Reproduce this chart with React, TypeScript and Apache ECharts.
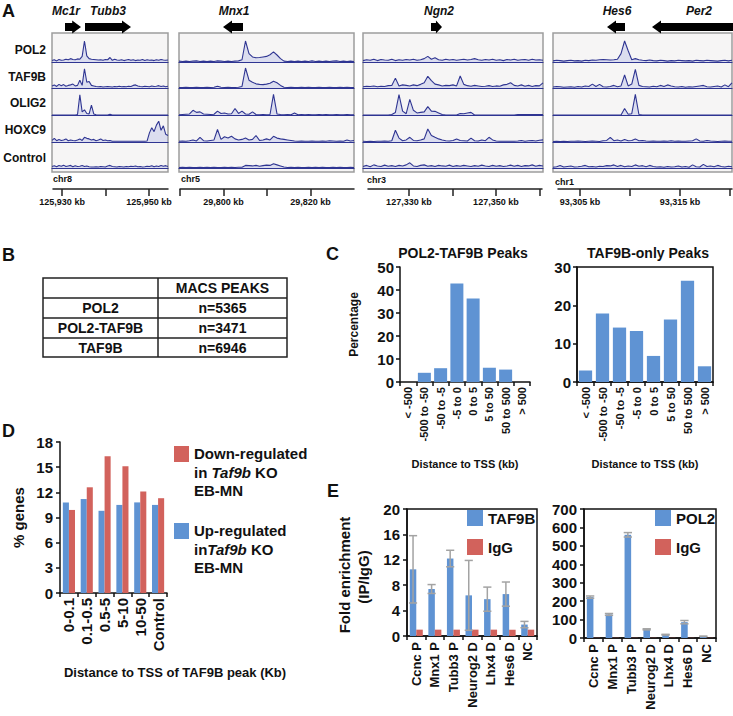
import React, { useEffect, useRef } from "react";
import * as echarts from "echarts";

const FONT = "'Liberation Sans', Arial, Helvetica, sans-serif";
const INK = "#111111";
const BLUE = "#5f93d3";
const RED = "#d2625c";
const NAVY = "#2f3592";
const TRACK_FILL = "rgba(120,130,215,0.3)";
const ERR_GREY = "#a3a3a3";

// ---------------- Panel A data ----------------
const TRACK_NAMES = ["POL2", "TAF9B", "OLIG2", "HOXC9", "Control"];
const GENE_NAMES = ["Mc1r", "Tubb3", "Mnx1", "Ngn2", "Hes6", "Per2"];
const GENE_STRAND = [1, 1, -1, 1, -1, -1];
const CHROMOSOMES = ["chr8", "chr5", "chr3", "chr1"];
const VIEW_START_KB = [125927.9, 29790, 127320.6, 93302.8];
const VIEW_END_KB = [125954.4, 29830, 127360.6, 93320.2];
const SCALE_TICKS_KB = [
  [125930, 125940, 125950],
  [29790, 29800, 29810, 29820],
  [127330, 127340, 127350, 127360],
  [93305, 93310, 93315, 93320],
];
const SCALE_LABELS_KB = [
  [125930, 125950],
  [29800, 29820],
  [127330, 127350],
  [93305, 93315],
];

// signal (% of track height) in 51 bins across each locus window
const TUBB3_POL2 = [5,8,4,9,6,7,10,8,12,9, 8,11,10,20,75,22,12,10,9,8, 7,8,6,9,8,16,6,10,7,6, 8,5,7,9,6,8,5,7,6,9, 5,8,6,7,5,8,6,9,7,6, 7];
const TUBB3_TAF9B = [8,12,6,14,9,13,7,10,12,15, 8,10,30,10,74,22,25,10,8,6, 5,6,4,5,6,5,4,6,5,7, 5,6,5,7,6,10,12,8,6,5, 7,6,5,8,6,7,9,6,8,5, 7];
const TUBB3_OLIG2 = [0,0,0,0,0,0,0,0,0,0, 0,2,78,12,20,6,4,38,4,1, 0,0,0,0,0,3,0,0,0,0, 0,0,0,0,0,0,0,0,0,0, 0,0,0,0,0,0,0,0,0,0, 0];
const TUBB3_HOXC9 = [6,14,5,10,6,8,12,5,8,6, 5,8,12,6,18,14,12,8,10,5, 8,12,6,8,5,6,3,3,3,3, 3,3,3,3,3,3,3,3,3,3, 3,4,35,55,40,65,80,45,62,30, 25];
const TUBB3_CONTROL = [6,9,5,10,7,11,6,8,10,5, 9,6,7,10,6,8,5,4,4,5, 4,6,5,4,8,10,6,5,4,6, 5,4,6,5,7,6,8,5,6,4, 5,7,6,9,5,8,6,10,7,9, 6];

const MNX1_POL2 = [3,2,3,2,3,4,2,3,2,3, 2,4,3,2,3,2,3,4,8,75, 30,18,15,16,18,20,26,36,25,12, 3,2,3,2,3,2,3,2,4,2, 3,2,3,2,3,4,2,3,2,3, 2];
const MNX1_TAF9B = [2,2,3,2,2,3,2,2,3,2, 3,7,3,2,3,2,2,3,6,77, 30,22,16,14,13,15,18,26,20,10, 3,2,3,2,2,3,2,3,2,2, 3,2,2,3,2,2,3,2,3,2, 2];
const MNX1_OLIG2 = [1,2,3,4,18,10,12,4,3,2, 3,15,6,8,4,5,25,6,15,4, 3,12,2,1,2,1,2,79,4,2, 1,2,1,8,1,2,1,2,1,1, 2,1,2,1,1,2,1,1,2,1, 1];
const MNX1_HOXC9 = [3,4,3,5,8,4,18,5,4,6, 8,48,10,20,15,22,12,8,10,15, 8,10,25,6,8,12,8,22,15,12, 10,8,6,4,3,4,3,3,4,3, 3,4,3,5,4,3,4,3,8,4, 6];
const MNX1_CONTROL = [2,3,2,3,2,2,3,2,3,2, 3,2,2,3,2,3,2,3,3,10, 9,8,10,7,9,11,10,16,12,8, 4,2,3,2,3,2,2,3,2,3, 2,3,2,2,3,2,3,2,2,3, 2];

const NGN2_POL2 = [5,8,6,10,5,9,7,6,10,5, 8,6,9,7,10,6,8,12,20,10, 15,8,6,10,7,9,6,8,10,7, 9,12,8,6,9,7,10,6,8,5, 9,7,10,6,8,9,6,10,7,8, 6];
const NGN2_TAF9B = [5,7,6,8,5,7,6,9,10,38, 8,12,10,8,12,9,14,20,45,28, 15,12,8,10,9,12,8,46,14,9, 7,10,8,6,7,9,6,8,7,12, 14,20,10,8,12,7,10,6,9,8, 20];
const NGN2_OLIG2 = [0,0,0,0,0,0,0,0,2,10, 78,15,5,60,18,8,10,12,32,15, 14,8,2,0,0,0,0,6,5,8, 10,0,0,0,0,0,0,0,0,0, 0,0,0,2,2,2,2,2,2,2, 2];
const NGN2_HOXC9 = [3,2,3,2,3,3,4,3,5,45, 15,5,8,18,6,5,8,12,50,25, 18,12,8,5,4,6,12,6,5,4, 15,5,4,8,5,18,8,4,3,3, 3,3,3,4,6,3,5,6,4,7, 8];
const NGN2_CONTROL = [6,10,5,12,8,6,11,7,9,6, 10,8,12,20,8,6,10,12,7,9, 6,10,8,7,11,6,9,7,10,8, 6,9,7,11,8,6,10,7,9,6, 8,11,7,10,6,9,8,12,7,10, 8];

const HES6_POL2 = [4,6,5,3,5,6,4,5,3,6, 5,7,6,8,9,8,7,8,10,30, 75,40,8,12,8,6,5,7,5,4, 6,5,3,5,4,6,5,4,5,3, 6,5,4,6,5,4,3,5,6,4, 6];
const HES6_TAF9B = [4,6,5,3,4,5,3,6,4,8, 6,15,6,14,5,4,6,10,5,8, 50,8,15,72,10,6,5,4,7,5, 10,6,12,8,5,4,6,3,5,4, 6,8,10,5,4,6,8,4,12,5, 20];
const HES6_OLIG2 = [0,0,0,0,0,0,0,0,0,0, 0,0,0,0,0,0,0,0,0,0, 25,3,5,79,2,0,0,0,0,0, 0,0,0,0,0,0,0,0,0,0, 0,0,0,0,0,0,0,0,0,0, 0];
const HES6_HOXC9 = [2,3,2,3,2,3,3,4,3,2, 3,4,3,2,5,6,18,5,8,4, 10,5,6,12,5,6,4,3,4,3, 3,4,3,5,3,4,3,3,4,5, 12,4,3,6,4,3,2,3,4,3, 3];
const HES6_CONTROL = [3,5,10,4,6,8,4,5,7,10, 5,6,4,7,6,9,8,12,6,10, 5,8,6,12,7,9,5,10,6,4, 5,3,6,4,5,8,4,6,3,12, 5,4,14,6,8,5,10,6,4,7, 5];

const LOCUS_TRACKS = [
  [TUBB3_POL2, TUBB3_TAF9B, TUBB3_OLIG2, TUBB3_HOXC9, TUBB3_CONTROL],
  [MNX1_POL2, MNX1_TAF9B, MNX1_OLIG2, MNX1_HOXC9, MNX1_CONTROL],
  [NGN2_POL2, NGN2_TAF9B, NGN2_OLIG2, NGN2_HOXC9, NGN2_CONTROL],
  [HES6_POL2, HES6_TAF9B, HES6_OLIG2, HES6_HOXC9, HES6_CONTROL],
];

// ---------------- Panel B data ----------------
const TABLE_HEADER = "MACS PEAKS";
const TABLE_ROWS = ["POL2", "POL2-TAF9B", "TAF9B"];
const TABLE_COUNTS = [5365, 3471, 6946];

// ---------------- Panel C data ----------------
const TSS_BINS = ["< -500", "-500 to -50", "-50 to -5", "-5 to 0", "0 to 5", "5 to 50", "50 to 500", "> 500"];
const POL2_TAF9B_PCT = [0, 4.0, 6.0, 42.8, 36.3, 6.2, 5.4, 0];
const TAF9B_ONLY_PCT = [3.0, 17.9, 14.2, 13.3, 6.8, 16.3, 26.4, 4.1];

// ---------------- Panel D data ----------------
const DIST_BINS = ["0-0.1", "0.1-0.5", "0.5-5", "5-10", "10-50", "Control"];
const UP_REG_PCT = [10.8, 11.2, 9.8, 10.5, 10.8, 10.5];
const DOWN_REG_PCT = [9.9, 12.6, 16.3, 15.1, 12.1, 11.3];

// ---------------- Panel E data ----------------
const CHIP_SITES = ["Ccnc P", "Mnx1 P", "Tubb3 P", "Neurog2 D", "Lhx4 D", "Hes6 D", "NC"];
const TAF9B_FOLD = [10.5, 7.4, 12.2, 6.4, 5.8, 6.6, 1.8];
const TAF9B_ERR = [5.3, 0.7, 1.3, 5.5, 1.9, 1.9, 0.5];
const IGG_FOLD_L = [1, 1, 1, 1, 1, 1, 1];
const POL2_FOLD = [222, 128, 560, 47, 18, 86, 9];
const POL2_ERR = [6, 5, 12, 3, 2, 9, 1];
const IGG_FOLD_R = [1, 1, 1, 1, 1, 1, 1];

// ---------------- layout ----------------
const PANEL_X = [[52, 168], [179, 354], [363, 543], [553, 732]];
const TRACK_Y = [[34, 62], [62, 88], [89, 115], [116, 142], [142, 168]];
const TRACK_LABEL_Y = [50, 77, 103, 130, 158];
const SCALE_X = [[53, 168], [180, 354], [368, 542], [558, 732]];
const CHR_LABEL_POS = [[53, 179], [181, 179], [367, 180], [555, 182]];
const GENE_LABEL_X = [66, 108, 234, 439, 617, 699];
const GENE_ARROW_X = [[65, 81], [85, 131], [223, 243], [431, 442], [607, 625], [652, 733]];

function bold(size: number, italic = false) {
  return `${italic ? "italic " : ""}bold ${size}px ${FONT}`;
}

function txt(text: string, x: number, y: number, size: number, o: any = {}) {
  const align = o.align || "left";
  return {
    type: "text",
    x,
    y,
    rotation: o.rot || 0,
    silent: true,
    style: {
      text,
      x: 0,
      y: 0,
      fill: INK,
      font: bold(size, !!o.italic),
      textAlign: align,
      align,
      textVerticalAlign: "middle",
      verticalAlign: "middle",
      ...(o.rich ? { rich: o.rich } : {}),
    },
  };
}

function arrowPoints(x0: number, x1: number, dir: number, cy: number) {
  const head = Math.min(9, (x1 - x0) * 0.55);
  const bh = 4;
  const hh = 6.5;
  if (dir > 0) {
    return [[x0, cy - bh], [x1 - head, cy - bh], [x1 - head, cy - hh], [x1, cy], [x1 - head, cy + hh], [x1 - head, cy + bh], [x0, cy + bh]];
  }
  return [[x1, cy - bh], [x0 + head, cy - bh], [x0 + head, cy - hh], [x0, cy], [x0 + head, cy + hh], [x0 + head, cy + bh], [x1, cy + bh]];
}

function buildOption() {
  const grid: any[] = [];
  const xAxis: any[] = [];
  const yAxis: any[] = [];
  const series: any[] = [];
  const addGrid = (g: any, xa: any, ya: any) => {
    const i = grid.length;
    grid.push({ containLabel: false, ...g });
    xAxis.push({ ...xa, gridIndex: i });
    yAxis.push({ ...ya, gridIndex: i });
    return i;
  };
  const axisLine = { show: true, lineStyle: { color: INK, width: 1.5 } };
  const axisTick = { show: true, length: 4, lineStyle: { color: INK, width: 1.5 } };
  const lbl = (size: number) => ({ color: INK, fontSize: size, fontWeight: "bold", fontFamily: FONT });

  // ---- Panel A tracks ----
  LOCUS_TRACKS.forEach((tracks, p) => {
    tracks.forEach((vals, t) => {
      const gi = addGrid(
        { left: PANEL_X[p][0], width: PANEL_X[p][1] - PANEL_X[p][0], top: TRACK_Y[t][0], height: TRACK_Y[t][1] - TRACK_Y[t][0] },
        {
          type: "value", min: 0, max: vals.length - 1,
          axisLine: { show: true, lineStyle: { color: NAVY, width: 1.2 } },
          axisTick: { show: false }, axisLabel: { show: false }, splitLine: { show: false },
        },
        { type: "value", min: 0, max: 100, show: false, splitLine: { show: false } }
      );
      series.push({
        type: "line", name: `${TRACK_NAMES[t]}-${CHROMOSOMES[p]}`, xAxisIndex: gi, yAxisIndex: gi,
        data: vals.map((v, i) => [i, v]), symbol: "none", silent: true,
        lineStyle: { color: NAVY, width: 1.1 }, areaStyle: { color: TRACK_FILL },
      });
    });
  });

  // ---- Panel A scale bars ----
  CHROMOSOMES.forEach((_, p) => {
    addGrid(
      { left: SCALE_X[p][0], width: SCALE_X[p][1] - SCALE_X[p][0], top: 187, height: 2 },
      {
        type: "value", min: VIEW_START_KB[p], max: VIEW_END_KB[p],
        axisLine: { show: true, onZero: false, lineStyle: { color: "#222", width: 1.5 } },
        axisTick: { show: true, customValues: SCALE_TICKS_KB[p], length: 7, lineStyle: { color: "#222", width: 1.5 } },
        axisLabel: {
          show: true, customValues: SCALE_LABELS_KB[p], margin: 8, ...lbl(9),
          formatter: (v: number) => `${Math.round(v).toLocaleString("en-US")} kb`,
        },
        splitLine: { show: false },
      },
      { type: "value", min: 0, max: 1, show: false }
    );
  });

  // ---- Panel C ----
  const cX = (name: string) => ({
    type: "category", data: TSS_BINS, name, nameLocation: "middle", nameGap: 76,
    nameTextStyle: lbl(11), axisLine, axisTick,
    axisLabel: { interval: 0, rotate: 90, margin: 5, ...lbl(11) },
  });
  const cL = addGrid(
    { left: 400, top: 267, width: 130, height: 115 },
    cX("Distance to TSS (kb)"),
    {
      type: "value", min: 0, max: 50, interval: 10, name: "Percentage", nameLocation: "middle", nameGap: 40,
      nameTextStyle: lbl(12), axisLine, axisTick, splitLine: { show: false },
      axisLabel: { margin: 6, ...lbl(15) },
    }
  );
  series.push({ type: "bar", name: "POL2-TAF9B Peaks", xAxisIndex: cL, yAxisIndex: cL, data: POL2_TAF9B_PCT, itemStyle: { color: BLUE }, barCategoryGap: "20%" });
  const cR = addGrid(
    { left: 577, top: 267, width: 136, height: 115, show: true, borderColor: INK, borderWidth: 1.5 },
    cX("Distance to TSS (kb)"),
    {
      type: "value", min: 0, max: 30, interval: 10, axisLine, axisTick, splitLine: { show: false },
      axisLabel: { margin: 6, ...lbl(15) },
    }
  );
  series.push({ type: "bar", name: "TAF9B-only Peaks", xAxisIndex: cR, yAxisIndex: cR, data: TAF9B_ONLY_PCT, itemStyle: { color: BLUE }, barCategoryGap: "22%" });

  // ---- Panel D ----
  const dG = addGrid(
    { left: 60, top: 442, width: 107, height: 151 },
    { type: "category", data: DIST_BINS, axisLine, axisTick, axisLabel: { interval: 0, rotate: 90, margin: 5, ...lbl(15) } },
    {
      type: "value", min: 0, max: 18, interval: 3, name: "% genes", nameLocation: "middle", nameGap: 34,
      nameTextStyle: lbl(15), axisLine, axisTick, splitLine: { show: false }, axisLabel: { margin: 7, ...lbl(15) },
    }
  );
  series.push({ type: "bar", name: "Up-regulated in Taf9b KO EB-MN", xAxisIndex: dG, yAxisIndex: dG, data: UP_REG_PCT, itemStyle: { color: BLUE }, barGap: "0%", barCategoryGap: "32%" });
  series.push({ type: "bar", name: "Down-regulated in Taf9b KO EB-MN", xAxisIndex: dG, yAxisIndex: dG, data: DOWN_REG_PCT, itemStyle: { color: RED }, barGap: "0%", barCategoryGap: "32%" });

  // ---- Panel E ----
  const eX = { type: "category", data: CHIP_SITES, axisLine, axisTick, axisLabel: { interval: 0, rotate: 90, margin: 6, ...lbl(13) } };
  const errSeries = (gi: number, vals: number[], errs: number[]) => ({
    type: "custom", name: "err", xAxisIndex: gi, yAxisIndex: gi, silent: true, z: 5,
    data: vals.map((v, i) => [i, v, errs[i]]),
    encode: { x: 0, y: 1 },
    renderItem: (params: any, api: any) => {
      const i = api.value(0);
      const v = api.value(1);
      const e = api.value(2);
      const w = api.size([1, 0])[0];
      const cx = api.coord([i, v])[0] - 0.175 * w;
      const yTop = api.coord([i, v + e])[1];
      const yBot = api.coord([i, Math.max(0, v - e)])[1];
      const hw = 0.22 * w;
      const st = { stroke: ERR_GREY, lineWidth: 1.5 };
      return {
        type: "group",
        children: [
          { type: "line", shape: { x1: cx, y1: yTop, x2: cx, y2: yBot }, style: st },
          { type: "line", shape: { x1: cx - hw, y1: yTop, x2: cx + hw, y2: yTop }, style: st },
          { type: "line", shape: { x1: cx - hw, y1: yBot, x2: cx + hw, y2: yBot }, style: st },
        ],
      };
    },
  });
  const eL = addGrid(
    { left: 407, top: 509, width: 130, height: 127, show: true, borderColor: INK, borderWidth: 1.5 },
    eX,
    { type: "value", min: 0, max: 20, interval: 4, axisLine, axisTick, splitLine: { show: false }, axisLabel: { margin: 7, ...lbl(15) } }
  );
  series.push({ type: "bar", name: "TAF9B", xAxisIndex: eL, yAxisIndex: eL, data: TAF9B_FOLD, itemStyle: { color: BLUE }, barGap: "0%", barCategoryGap: "30%" });
  series.push({ type: "bar", name: "IgG", xAxisIndex: eL, yAxisIndex: eL, data: IGG_FOLD_L, itemStyle: { color: RED }, barGap: "0%", barCategoryGap: "30%" });
  series.push(errSeries(eL, TAF9B_FOLD, TAF9B_ERR));
  const eR = addGrid(
    { left: 584, top: 509, width: 132, height: 129, show: true, borderColor: INK, borderWidth: 1.5 },
    eX,
    { type: "value", min: 0, max: 700, interval: 100, axisLine, axisTick, splitLine: { show: false }, axisLabel: { margin: 7, ...lbl(15) } }
  );
  series.push({ type: "bar", name: "POL2", xAxisIndex: eR, yAxisIndex: eR, data: POL2_FOLD, itemStyle: { color: BLUE }, barGap: "0%", barCategoryGap: "30%" });
  series.push({ type: "bar", name: "IgG", xAxisIndex: eR, yAxisIndex: eR, data: IGG_FOLD_R, itemStyle: { color: RED }, barGap: "0%", barCategoryGap: "30%" });
  series.push(errSeries(eR, POL2_FOLD, POL2_ERR));

  const legendBase = {
    orient: "vertical", icon: "rect", itemWidth: 16, itemHeight: 16, itemGap: 13, selectedMode: false, padding: 0,
    textStyle: { color: INK, fontSize: 15, fontWeight: "bold", fontFamily: FONT },
  };
  const legend = [
    { ...legendBase, data: ["TAF9B", "IgG"], left: 467, top: 510 },
    { ...legendBase, data: ["POL2", "IgG"], left: 655, top: 510 },
  ];

  // ---- graphics ----
  const g: any[] = [];
  PANEL_X.forEach(([x0, x1]) => {
    g.push({ type: "rect", z: -10, silent: true, shape: { x: x0, y: 33, width: x1 - x0, height: 139 }, style: { fill: "#f6f5f5", stroke: "#9d9d9d", lineWidth: 1.5 } });
  });
  g.push(txt("A", 2, 11, 18));
  g.push(txt("B", 2, 255, 18));
  g.push(txt("C", 326, 254, 18));
  g.push(txt("D", 2, 431, 18));
  g.push(txt("E", 327, 491, 18));
  GENE_NAMES.forEach((name, i) => {
    g.push(txt(name, GENE_LABEL_X[i], 11, 12, { italic: true, align: "center" }));
    g.push({ type: "polygon", silent: true, shape: { points: arrowPoints(GENE_ARROW_X[i][0], GENE_ARROW_X[i][1], GENE_STRAND[i], 27) }, style: { fill: "#000" } });
  });
  TRACK_NAMES.forEach((name, t) => g.push(txt(name, 46, TRACK_LABEL_Y[t], 12, { align: "right" })));
  CHROMOSOMES.forEach((c, p) => g.push(txt(c, CHR_LABEL_POS[p][0], CHR_LABEL_POS[p][1], 9)));

  const tx0 = 43, tx1 = 287, tmid = 158, ty = [278, 298, 318, 338, 357];
  g.push({ type: "rect", silent: true, shape: { x: tx0, y: ty[0], width: tx1 - tx0, height: ty[4] - ty[0] }, style: { fill: "none", stroke: "#222", lineWidth: 1.5 } });
  g.push({ type: "line", silent: true, shape: { x1: tmid, y1: ty[0], x2: tmid, y2: ty[4] }, style: { stroke: "#222", lineWidth: 1.5 } });
  [1, 2, 3].forEach((k) => g.push({ type: "line", silent: true, shape: { x1: tx0, y1: ty[k], x2: tx1, y2: ty[k] }, style: { stroke: "#222", lineWidth: 1.5 } }));
  g.push(txt(TABLE_HEADER, (tmid + tx1) / 2, (ty[0] + ty[1]) / 2, 14, { align: "center" }));
  TABLE_ROWS.forEach((r, k) => {
    const cy = (ty[k + 1] + ty[k + 2]) / 2;
    g.push(txt(r, (tx0 + tmid) / 2, cy, 14, { align: "center" }));
    g.push(txt(`n=${TABLE_COUNTS[k]}`, (tmid + tx1) / 2, cy, 14, { align: "center" }));
  });

  g.push(txt("POL2-TAF9B Peaks", 463, 253, 14, { align: "center" }));
  g.push(txt("TAF9B-only Peaks", 648, 253, 14, { align: "center" }));

  g.push(txt("Distance to TSS of TAF9B peak (Kb)", 175, 672, 13, { align: "center" }));
  const richB = { fontFamily: FONT, fontWeight: "bold", fontSize: 15, fill: INK, color: INK };
  const richI = { ...richB, fontStyle: "italic" };
  g.push({ type: "rect", silent: true, shape: { x: 174, y: 446, width: 15, height: 16 }, style: { fill: RED } });
  g.push(txt("Down-regulated", 194, 453, 15));
  g.push(txt("{b|in }{i|Taf9b}{b| KO}", 194, 472, 15, { rich: { b: richB, i: richI } }));
  g.push(txt("EB-MN", 194, 490, 15));
  g.push({ type: "rect", silent: true, shape: { x: 174, y: 523, width: 15, height: 16 }, style: { fill: BLUE } });
  g.push(txt("Up-regulated", 194, 530, 15));
  g.push(txt("{b|in}{i|Taf9b}{b| KO}", 194, 549, 15, { rich: { b: richB, i: richI } }));
  g.push(txt("EB-MN", 194, 567, 15));

  g.push(txt("Fold enrichment", 344, 575, 15, { align: "center", rot: Math.PI / 2 }));
  g.push(txt("(IP/IgG)", 363, 577, 15, { align: "center", rot: Math.PI / 2 }));

  return {
    animation: false,
    backgroundColor: "#ffffff",
    textStyle: { fontFamily: FONT },
    grid, xAxis, yAxis, series, legend,
    graphic: { elements: g },
  };
}

export default function App() {
  const ref = useRef<HTMLDivElement>(null);
  useEffect(() => {
    if (!ref.current) return;
    const chart = echarts.init(ref.current, undefined, { renderer: "svg" });
    chart.setOption(buildOption() as any);
    return () => chart.dispose();
  }, []);
  return <div ref={ref} style={{ position: "absolute", left: 0, top: 0, width: 733, height: 716, background: "#fff" }} />;
}
